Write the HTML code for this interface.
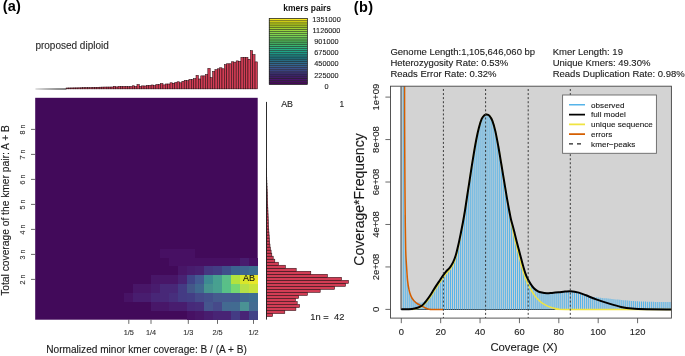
<!DOCTYPE html>
<html><head><meta charset="utf-8"><title>Smudgeplot and GenomeScope</title>
<style>html,body{margin:0;padding:0;background:#fff;width:685px;height:356px;overflow:hidden;font-family:"Liberation Sans", sans-serif;}svg{display:block;will-change:transform;}</style>
</head><body>
<svg width="685" height="356" viewBox="0 0 685 356" font-family='"Liberation Sans", sans-serif'><text x="2.80" y="11.00" font-size="14.50" text-anchor="start" font-weight="bold" fill="#000" letter-spacing="0.15">(a)</text>
<text x="35.40" y="48.80" font-size="10.00" text-anchor="start" font-weight="normal" fill="#2b2b2b" stroke="#2b2b2b" stroke-width="0.12">proposed diploid</text>
<defs><linearGradient id="gl" x1="0" x2="1" y1="0" y2="0"><stop offset="0" stop-color="#d0d0d0"/><stop offset="0.35" stop-color="#8a8a8a"/><stop offset="0.7" stop-color="#505050"/><stop offset="1" stop-color="#3a3a3a"/></linearGradient></defs>
<rect x="35.4" y="88.4" width="31" height="1.2" fill="url(#gl)"/>
<g fill="#d23d55" stroke="#2a0c12" stroke-width="0.55"><rect x="66.11" y="87.98" width="2.362" height="0.87"/><rect x="68.47" y="87.95" width="2.362" height="0.90"/><rect x="70.83" y="87.91" width="2.362" height="0.94"/><rect x="73.19" y="87.88" width="2.362" height="0.97"/><rect x="75.55" y="87.85" width="2.362" height="1.00"/><rect x="77.92" y="87.81" width="2.362" height="1.04"/><rect x="80.28" y="87.77" width="2.362" height="1.08"/><rect x="82.64" y="87.72" width="2.362" height="1.13"/><rect x="85.00" y="87.68" width="2.362" height="1.17"/><rect x="87.36" y="87.63" width="2.362" height="1.22"/><rect x="89.73" y="87.56" width="2.362" height="1.29"/><rect x="92.09" y="87.47" width="2.362" height="1.38"/><rect x="94.45" y="87.37" width="2.362" height="1.48"/><rect x="96.81" y="87.28" width="2.362" height="1.57"/><rect x="99.17" y="87.19" width="2.362" height="1.66"/><rect x="101.54" y="87.10" width="2.362" height="1.75"/><rect x="103.90" y="87.04" width="2.362" height="1.81"/><rect x="106.26" y="87.03" width="2.362" height="1.82"/><rect x="108.62" y="87.01" width="2.362" height="1.84"/><rect x="110.98" y="86.99" width="2.362" height="1.86"/><rect x="113.35" y="86.40" width="2.362" height="2.45"/><rect x="115.71" y="86.90" width="2.362" height="1.95"/><rect x="118.07" y="86.45" width="2.362" height="2.40"/><rect x="120.43" y="86.50" width="2.362" height="2.35"/><rect x="122.79" y="86.55" width="2.362" height="2.30"/><rect x="125.16" y="86.53" width="2.362" height="2.32"/><rect x="127.52" y="86.68" width="2.362" height="2.17"/><rect x="129.88" y="86.58" width="2.362" height="2.27"/><rect x="132.24" y="85.78" width="2.362" height="3.07"/><rect x="134.60" y="86.53" width="2.362" height="2.32"/><rect x="136.97" y="84.58" width="2.362" height="4.27"/><rect x="139.33" y="86.48" width="2.362" height="2.37"/><rect x="141.69" y="85.88" width="2.362" height="2.97"/><rect x="144.05" y="85.98" width="2.362" height="2.87"/><rect x="146.41" y="85.48" width="2.362" height="3.37"/><rect x="148.78" y="85.48" width="2.362" height="3.37"/><rect x="151.14" y="84.98" width="2.362" height="3.87"/><rect x="153.50" y="85.68" width="2.362" height="3.17"/><rect x="155.86" y="84.58" width="2.362" height="4.27"/><rect x="158.22" y="84.58" width="2.362" height="4.27"/><rect x="160.59" y="83.58" width="2.362" height="5.27"/><rect x="162.95" y="84.88" width="2.362" height="3.97"/><rect x="165.31" y="83.98" width="2.362" height="4.87"/><rect x="167.67" y="83.98" width="2.362" height="4.87"/><rect x="170.03" y="82.78" width="2.362" height="6.07"/><rect x="172.40" y="83.28" width="2.362" height="5.57"/><rect x="174.76" y="82.48" width="2.362" height="6.37"/><rect x="177.12" y="81.78" width="2.362" height="7.07"/><rect x="179.48" y="82.78" width="2.362" height="6.07"/><rect x="181.84" y="81.28" width="2.362" height="7.57"/><rect x="184.21" y="80.38" width="2.362" height="8.47"/><rect x="186.57" y="80.68" width="2.362" height="8.17"/><rect x="188.93" y="79.48" width="2.362" height="9.37"/><rect x="191.29" y="79.68" width="2.362" height="9.17"/><rect x="193.65" y="78.68" width="2.362" height="10.17"/><rect x="196.02" y="75.38" width="2.362" height="13.47"/><rect x="198.38" y="78.98" width="2.362" height="9.87"/><rect x="200.74" y="75.88" width="2.362" height="12.97"/><rect x="203.10" y="75.88" width="2.362" height="12.97"/><rect x="205.46" y="74.58" width="2.362" height="14.27"/><rect x="207.83" y="68.38" width="2.362" height="20.47"/><rect x="210.19" y="77.68" width="2.362" height="11.17"/><rect x="212.55" y="71.48" width="2.362" height="17.37"/><rect x="214.91" y="69.68" width="2.362" height="19.17"/><rect x="217.27" y="68.78" width="2.362" height="20.07"/><rect x="219.64" y="67.78" width="2.362" height="21.07"/><rect x="222.00" y="68.78" width="2.362" height="20.07"/><rect x="224.36" y="64.68" width="2.362" height="24.17"/><rect x="226.72" y="63.77" width="2.362" height="25.07"/><rect x="229.08" y="63.77" width="2.362" height="25.07"/><rect x="231.45" y="61.77" width="2.362" height="27.07"/><rect x="233.81" y="62.17" width="2.362" height="26.67"/><rect x="236.17" y="60.88" width="2.362" height="27.97"/><rect x="238.53" y="61.27" width="2.362" height="27.57"/><rect x="240.89" y="57.38" width="2.362" height="31.47"/><rect x="243.26" y="57.38" width="2.362" height="31.47"/><rect x="245.62" y="57.38" width="2.362" height="31.47"/><rect x="247.98" y="59.27" width="2.362" height="29.57"/><rect x="250.34" y="50.67" width="2.362" height="38.17"/><rect x="252.70" y="54.67" width="2.362" height="34.17"/><rect x="255.07" y="61.88" width="2.362" height="26.97"/></g>
<rect x="35.2" y="97.8" width="222.5" height="221.9" fill="#420a5a"/>
<g shape-rendering="crispEdges"><rect x="159.80" y="248.66" width="8.95" height="8.93" fill="#471063"/><rect x="168.70" y="248.66" width="8.95" height="8.93" fill="#471063"/><rect x="177.60" y="248.66" width="8.95" height="8.93" fill="#471063"/><rect x="186.50" y="248.66" width="8.95" height="8.93" fill="#471063"/><rect x="168.70" y="257.54" width="8.95" height="8.93" fill="#471063"/><rect x="177.60" y="257.54" width="8.95" height="8.93" fill="#471063"/><rect x="186.50" y="257.54" width="8.95" height="8.93" fill="#471063"/><rect x="195.40" y="257.54" width="8.95" height="8.93" fill="#471063"/><rect x="204.30" y="257.54" width="8.95" height="8.93" fill="#471063"/><rect x="213.20" y="257.54" width="8.95" height="8.93" fill="#471063"/><rect x="222.10" y="257.54" width="8.95" height="8.93" fill="#471063"/><rect x="231.00" y="257.54" width="8.95" height="8.93" fill="#471063"/><rect x="239.90" y="257.54" width="8.95" height="8.93" fill="#481d6f"/><rect x="248.80" y="257.54" width="8.95" height="8.93" fill="#471063"/><rect x="177.60" y="266.42" width="8.95" height="8.93" fill="#481668"/><rect x="186.50" y="266.42" width="8.95" height="8.93" fill="#481c6e"/><rect x="195.40" y="266.42" width="8.95" height="8.93" fill="#482071"/><rect x="204.30" y="266.42" width="8.95" height="8.93" fill="#453781"/><rect x="213.20" y="266.42" width="8.95" height="8.93" fill="#433d84"/><rect x="222.10" y="266.42" width="8.95" height="8.93" fill="#3f4f8b"/><rect x="231.00" y="266.42" width="8.95" height="8.93" fill="#3c6390"/><rect x="239.90" y="266.42" width="8.95" height="8.93" fill="#3e6690"/><rect x="248.80" y="266.42" width="8.95" height="8.93" fill="#3d6f90"/><rect x="150.90" y="275.30" width="8.95" height="8.93" fill="#481668"/><rect x="159.80" y="275.30" width="8.95" height="8.93" fill="#481668"/><rect x="168.70" y="275.30" width="8.95" height="8.93" fill="#481668"/><rect x="177.60" y="275.30" width="8.95" height="8.93" fill="#482374"/><rect x="186.50" y="275.30" width="8.95" height="8.93" fill="#404588"/><rect x="195.40" y="275.30" width="8.95" height="8.93" fill="#435a92"/><rect x="204.30" y="275.30" width="8.95" height="8.93" fill="#3d8a92"/><rect x="213.20" y="275.30" width="8.95" height="8.93" fill="#47a090"/><rect x="222.10" y="275.30" width="8.95" height="8.93" fill="#5abf88"/><rect x="231.00" y="275.30" width="8.95" height="8.93" fill="#b2e23e"/><rect x="239.90" y="275.30" width="8.95" height="8.93" fill="#d9e62a"/><rect x="248.80" y="275.30" width="8.95" height="8.93" fill="#e8e82a"/><rect x="133.10" y="284.18" width="8.95" height="8.93" fill="#481668"/><rect x="142.00" y="284.18" width="8.95" height="8.93" fill="#481668"/><rect x="150.90" y="284.18" width="8.95" height="8.93" fill="#481c6e"/><rect x="159.80" y="284.18" width="8.95" height="8.93" fill="#482878"/><rect x="168.70" y="284.18" width="8.95" height="8.93" fill="#482878"/><rect x="177.60" y="284.18" width="8.95" height="8.93" fill="#443b84"/><rect x="186.50" y="284.18" width="8.95" height="8.93" fill="#435889"/><rect x="195.40" y="284.18" width="8.95" height="8.93" fill="#40698f"/><rect x="204.30" y="284.18" width="8.95" height="8.93" fill="#46948f"/><rect x="213.20" y="284.18" width="8.95" height="8.93" fill="#48a090"/><rect x="222.10" y="284.18" width="8.95" height="8.93" fill="#58c088"/><rect x="231.00" y="284.18" width="8.95" height="8.93" fill="#74d872"/><rect x="239.90" y="284.18" width="8.95" height="8.93" fill="#b5e048"/><rect x="248.80" y="284.18" width="8.95" height="8.93" fill="#c7e33b"/><rect x="124.20" y="293.06" width="8.95" height="8.93" fill="#471365"/><rect x="133.10" y="293.06" width="8.95" height="8.93" fill="#481d6f"/><rect x="142.00" y="293.06" width="8.95" height="8.93" fill="#481d6f"/><rect x="150.90" y="293.06" width="8.95" height="8.93" fill="#482677"/><rect x="159.80" y="293.06" width="8.95" height="8.93" fill="#482878"/><rect x="168.70" y="293.06" width="8.95" height="8.93" fill="#472f7d"/><rect x="177.60" y="293.06" width="8.95" height="8.93" fill="#443b84"/><rect x="186.50" y="293.06" width="8.95" height="8.93" fill="#433e85"/><rect x="195.40" y="293.06" width="8.95" height="8.93" fill="#454a8a"/><rect x="204.30" y="293.06" width="8.95" height="8.93" fill="#44508c"/><rect x="213.20" y="293.06" width="8.95" height="8.93" fill="#455a8e"/><rect x="222.10" y="293.06" width="8.95" height="8.93" fill="#455a90"/><rect x="231.00" y="293.06" width="8.95" height="8.93" fill="#435a90"/><rect x="239.90" y="293.06" width="8.95" height="8.93" fill="#416890"/><rect x="248.80" y="293.06" width="8.95" height="8.93" fill="#3f6e92"/><rect x="150.90" y="301.94" width="8.95" height="8.93" fill="#481769"/><rect x="159.80" y="301.94" width="8.95" height="8.93" fill="#481769"/><rect x="168.70" y="301.94" width="8.95" height="8.93" fill="#481d6f"/><rect x="177.60" y="301.94" width="8.95" height="8.93" fill="#481d6f"/><rect x="186.50" y="301.94" width="8.95" height="8.93" fill="#472a7a"/><rect x="195.40" y="301.94" width="8.95" height="8.93" fill="#472d7b"/><rect x="204.30" y="301.94" width="8.95" height="8.93" fill="#45558d"/><rect x="213.20" y="301.94" width="8.95" height="8.93" fill="#464a8a"/><rect x="222.10" y="301.94" width="8.95" height="8.93" fill="#436a91"/><rect x="231.00" y="301.94" width="8.95" height="8.93" fill="#426b91"/><rect x="239.90" y="301.94" width="8.95" height="8.93" fill="#4a9294"/><rect x="248.80" y="301.94" width="8.95" height="8.93" fill="#446c92"/><rect x="186.50" y="310.82" width="8.95" height="8.93" fill="#471164"/><rect x="195.40" y="310.82" width="8.95" height="8.93" fill="#481668"/><rect x="204.30" y="310.82" width="8.95" height="8.93" fill="#481d6f"/><rect x="213.20" y="310.82" width="8.95" height="8.93" fill="#482475"/><rect x="222.10" y="310.82" width="8.95" height="8.93" fill="#482475"/><rect x="231.00" y="310.82" width="8.95" height="8.93" fill="#443b84"/><rect x="239.90" y="310.82" width="8.95" height="8.93" fill="#482576"/><rect x="248.80" y="310.82" width="8.95" height="8.93" fill="#414287"/></g>
<text x="243.00" y="281.30" font-size="9.00" text-anchor="start" font-weight="normal" fill="#111" stroke="#111" stroke-width="0.12">AB</text>
<line x1="31" y1="129.40" x2="35.2" y2="129.40" stroke="#444" stroke-width="0.8"/>
<text x="25.20" y="129.40" font-size="7.20" text-anchor="middle" font-weight="normal" fill="#333" stroke="#333" stroke-width="0.12" transform="rotate(-90 25.20 129.40)">8 n</text>
<line x1="31" y1="154.40" x2="35.2" y2="154.40" stroke="#444" stroke-width="0.8"/>
<text x="25.20" y="154.40" font-size="7.20" text-anchor="middle" font-weight="normal" fill="#333" stroke="#333" stroke-width="0.12" transform="rotate(-90 25.20 154.40)">7 n</text>
<line x1="31" y1="179.40" x2="35.2" y2="179.40" stroke="#444" stroke-width="0.8"/>
<text x="25.20" y="179.40" font-size="7.20" text-anchor="middle" font-weight="normal" fill="#333" stroke="#333" stroke-width="0.12" transform="rotate(-90 25.20 179.40)">6 n</text>
<line x1="31" y1="204.40" x2="35.2" y2="204.40" stroke="#444" stroke-width="0.8"/>
<text x="25.20" y="204.40" font-size="7.20" text-anchor="middle" font-weight="normal" fill="#333" stroke="#333" stroke-width="0.12" transform="rotate(-90 25.20 204.40)">5 n</text>
<line x1="31" y1="229.40" x2="35.2" y2="229.40" stroke="#444" stroke-width="0.8"/>
<text x="25.20" y="229.40" font-size="7.20" text-anchor="middle" font-weight="normal" fill="#333" stroke="#333" stroke-width="0.12" transform="rotate(-90 25.20 229.40)">4 n</text>
<line x1="31" y1="254.40" x2="35.2" y2="254.40" stroke="#444" stroke-width="0.8"/>
<text x="25.20" y="254.40" font-size="7.20" text-anchor="middle" font-weight="normal" fill="#333" stroke="#333" stroke-width="0.12" transform="rotate(-90 25.20 254.40)">3 n</text>
<line x1="31" y1="279.40" x2="35.2" y2="279.40" stroke="#444" stroke-width="0.8"/>
<text x="25.20" y="279.40" font-size="7.20" text-anchor="middle" font-weight="normal" fill="#333" stroke="#333" stroke-width="0.12" transform="rotate(-90 25.20 279.40)">2 n</text>
<text x="8.60" y="210.50" font-size="10.25" text-anchor="middle" font-weight="normal" fill="#1a1a1a" stroke="#1a1a1a" stroke-width="0.12" transform="rotate(-90 8.60 210.50)">Total coverage of the kmer pair: A + B</text>
<line x1="128.80" y1="319.7" x2="128.80" y2="323.9" stroke="#444" stroke-width="0.8"/>
<text x="128.80" y="335.10" font-size="7.30" text-anchor="middle" font-weight="normal" fill="#333" stroke="#333" stroke-width="0.12">1/5</text>
<line x1="151.00" y1="319.7" x2="151.00" y2="323.9" stroke="#444" stroke-width="0.8"/>
<text x="151.00" y="335.10" font-size="7.30" text-anchor="middle" font-weight="normal" fill="#333" stroke="#333" stroke-width="0.12">1/4</text>
<line x1="188.30" y1="319.7" x2="188.30" y2="323.9" stroke="#444" stroke-width="0.8"/>
<text x="188.30" y="335.10" font-size="7.30" text-anchor="middle" font-weight="normal" fill="#333" stroke="#333" stroke-width="0.12">1/3</text>
<line x1="217.50" y1="319.7" x2="217.50" y2="323.9" stroke="#444" stroke-width="0.8"/>
<text x="217.50" y="335.10" font-size="7.30" text-anchor="middle" font-weight="normal" fill="#333" stroke="#333" stroke-width="0.12">2/5</text>
<line x1="253.50" y1="319.7" x2="253.50" y2="323.9" stroke="#444" stroke-width="0.8"/>
<text x="253.50" y="335.10" font-size="7.30" text-anchor="middle" font-weight="normal" fill="#333" stroke="#333" stroke-width="0.12">1/2</text>
<text x="146.60" y="352.60" font-size="10.10" text-anchor="middle" font-weight="normal" fill="#1a1a1a" stroke="#1a1a1a" stroke-width="0.12">Normalized minor kmer coverage: B / (A + B)</text>
<g fill="#d23d55" stroke="#2a0c12" stroke-width="0.55"><rect x="266.40" y="313.56" width="6.20" height="3.02"/><rect x="266.40" y="310.54" width="18.40" height="3.02"/><rect x="266.40" y="307.52" width="29.50" height="3.02"/><rect x="266.40" y="304.50" width="33.20" height="3.02"/><rect x="266.40" y="301.48" width="30.80" height="3.02"/><rect x="266.40" y="298.46" width="29.00" height="3.02"/><rect x="266.40" y="295.44" width="32.20" height="3.02"/><rect x="266.40" y="292.42" width="41.00" height="3.02"/><rect x="266.40" y="289.40" width="53.80" height="3.02"/><rect x="266.40" y="286.38" width="68.20" height="3.02"/><rect x="266.40" y="283.36" width="79.10" height="3.02"/><rect x="266.40" y="280.34" width="82.10" height="3.02"/><rect x="266.40" y="277.32" width="75.10" height="3.02"/><rect x="266.40" y="274.30" width="61.00" height="3.02"/><rect x="266.40" y="271.28" width="44.40" height="3.02"/><rect x="266.40" y="268.26" width="29.80" height="3.02"/><rect x="266.40" y="265.24" width="19.00" height="3.02"/><rect x="266.40" y="262.22" width="12.00" height="3.02"/><rect x="266.40" y="259.20" width="8.40" height="3.02"/><rect x="266.40" y="256.18" width="6.80" height="3.02"/><rect x="266.40" y="253.16" width="5.40" height="3.02"/><rect x="266.40" y="250.14" width="4.70" height="3.02"/><rect x="266.40" y="247.12" width="4.00" height="3.02"/><rect x="266.40" y="244.10" width="3.60" height="3.02"/><rect x="266.40" y="241.08" width="3.30" height="3.02"/><rect x="266.40" y="238.06" width="3.00" height="3.02"/><rect x="266.40" y="235.04" width="2.80" height="3.02"/><rect x="266.40" y="232.02" width="2.60" height="3.02"/><rect x="266.40" y="229.00" width="2.40" height="3.02"/><rect x="266.40" y="225.98" width="2.20" height="3.02"/><rect x="266.40" y="222.96" width="2.00" height="3.02"/><rect x="266.40" y="219.94" width="1.90" height="3.02"/><rect x="266.40" y="216.92" width="1.80" height="3.02"/><rect x="266.40" y="213.90" width="1.70" height="3.02"/><rect x="266.40" y="210.88" width="1.59" height="3.02"/><rect x="266.40" y="207.86" width="1.48" height="3.02"/><rect x="266.40" y="204.84" width="1.37" height="3.02"/><rect x="266.40" y="201.82" width="1.26" height="3.02"/><rect x="266.40" y="198.80" width="1.15" height="3.02"/><rect x="266.40" y="195.78" width="1.04" height="3.02"/><rect x="266.40" y="192.76" width="0.93" height="3.02"/><rect x="266.40" y="189.74" width="0.82" height="3.02"/><rect x="266.40" y="186.72" width="0.71" height="3.02"/><rect x="266.40" y="183.70" width="0.60" height="3.02"/><rect x="266.40" y="180.68" width="0.49" height="3.02"/><rect x="266.40" y="177.66" width="0.38" height="3.02"/><rect x="266.40" y="174.64" width="0.27" height="3.02"/><rect x="266.40" y="171.62" width="0.16" height="3.02"/><rect x="266.40" y="168.60" width="0.05" height="3.02"/></g>
<line x1="266.5" y1="101.9" x2="266.5" y2="319.6" stroke="#222" stroke-width="0.95"/>
<text x="281.20" y="106.90" font-size="8.90" text-anchor="start" font-weight="normal" fill="#222" stroke="#222" stroke-width="0.12">AB</text>
<text x="344.20" y="106.90" font-size="8.40" text-anchor="end" font-weight="normal" fill="#222" stroke="#222" stroke-width="0.12">1</text>
<text x="310.30" y="320.40" font-size="9.30" text-anchor="start" font-weight="normal" fill="#222" stroke="#222" stroke-width="0.12">1n =</text>
<text x="344.40" y="320.40" font-size="9.30" text-anchor="end" font-weight="normal" fill="#222" stroke="#222" stroke-width="0.12">42</text>
<g stroke="#000" stroke-opacity="0.7" stroke-width="0.5"><rect x="269.20" y="18.400" width="38.10" height="1.886" fill="#f6e620"/><rect x="269.20" y="20.286" width="38.10" height="1.886" fill="#e5e419"/><rect x="269.20" y="22.171" width="38.10" height="1.886" fill="#d2e21b"/><rect x="269.20" y="24.057" width="38.10" height="1.886" fill="#c2df23"/><rect x="269.20" y="25.943" width="38.10" height="1.886" fill="#b5de2b"/><rect x="269.20" y="27.829" width="38.10" height="1.886" fill="#a8db34"/><rect x="269.20" y="29.714" width="38.10" height="1.886" fill="#98d83e"/><rect x="269.20" y="31.600" width="38.10" height="1.886" fill="#8bd646"/><rect x="269.20" y="33.486" width="38.10" height="1.886" fill="#81d34d"/><rect x="269.20" y="35.371" width="38.10" height="1.886" fill="#77d153"/><rect x="269.20" y="37.257" width="38.10" height="1.886" fill="#6ece58"/><rect x="269.20" y="39.143" width="38.10" height="1.886" fill="#63cb5f"/><rect x="269.20" y="41.029" width="38.10" height="1.886" fill="#56c667"/><rect x="269.20" y="42.914" width="38.10" height="1.886" fill="#4ac16d"/><rect x="269.20" y="44.800" width="38.10" height="1.886" fill="#3dbc74"/><rect x="269.20" y="46.686" width="38.10" height="1.886" fill="#2fb47c"/><rect x="269.20" y="48.571" width="38.10" height="1.886" fill="#26ad81"/><rect x="269.20" y="50.457" width="38.10" height="1.886" fill="#20a486"/><rect x="269.20" y="52.343" width="38.10" height="1.886" fill="#1e9b8a"/><rect x="269.20" y="54.229" width="38.10" height="1.886" fill="#20928c"/><rect x="269.20" y="56.114" width="38.10" height="1.886" fill="#23898e"/><rect x="269.20" y="58.000" width="38.10" height="1.886" fill="#27808e"/><rect x="269.20" y="59.886" width="38.10" height="1.886" fill="#2a768e"/><rect x="269.20" y="61.771" width="38.10" height="1.886" fill="#2e6e8e"/><rect x="269.20" y="63.657" width="38.10" height="1.886" fill="#32658e"/><rect x="269.20" y="65.543" width="38.10" height="1.886" fill="#365d8d"/><rect x="269.20" y="67.429" width="38.10" height="1.886" fill="#3a538b"/><rect x="269.20" y="69.314" width="38.10" height="1.886" fill="#3e4a89"/><rect x="269.20" y="71.200" width="38.10" height="1.886" fill="#424086"/><rect x="269.20" y="73.086" width="38.10" height="1.886" fill="#453581"/><rect x="269.20" y="74.971" width="38.10" height="1.886" fill="#472a7a"/><rect x="269.20" y="76.857" width="38.10" height="1.886" fill="#481f70"/><rect x="269.20" y="78.743" width="38.10" height="1.886" fill="#481769"/><rect x="269.20" y="80.629" width="38.10" height="1.886" fill="#470e61"/><rect x="269.20" y="82.514" width="38.10" height="1.886" fill="#450559"/></g>
<rect x="269.20" y="18.40" width="38.10" height="66.00" fill="none" stroke="#222" stroke-width="0.6"/>
<text x="307.20" y="10.75" font-size="8.50" text-anchor="middle" font-weight="bold" fill="#111">kmers pairs</text>
<text x="326.50" y="21.55" font-size="7.30" text-anchor="middle" font-weight="normal" fill="#222" stroke="#222" stroke-width="0.12">1351000</text>
<text x="326.50" y="32.77" font-size="7.30" text-anchor="middle" font-weight="normal" fill="#222" stroke="#222" stroke-width="0.12">1126000</text>
<text x="326.50" y="43.99" font-size="7.30" text-anchor="middle" font-weight="normal" fill="#222" stroke="#222" stroke-width="0.12">901000</text>
<text x="326.50" y="55.21" font-size="7.30" text-anchor="middle" font-weight="normal" fill="#222" stroke="#222" stroke-width="0.12">675000</text>
<text x="326.50" y="66.43" font-size="7.30" text-anchor="middle" font-weight="normal" fill="#222" stroke="#222" stroke-width="0.12">450000</text>
<text x="326.50" y="77.65" font-size="7.30" text-anchor="middle" font-weight="normal" fill="#222" stroke="#222" stroke-width="0.12">225000</text>
<text x="326.50" y="88.87" font-size="7.30" text-anchor="middle" font-weight="normal" fill="#222" stroke="#222" stroke-width="0.12">0</text>
<text x="353.70" y="11.50" font-size="14.50" text-anchor="start" font-weight="bold" fill="#000" letter-spacing="0.45">(b)</text>
<text x="390.40" y="54.50" font-size="9.50" text-anchor="start" font-weight="normal" fill="#1a1a1a" stroke="#1a1a1a" stroke-width="0.12">Genome Length:1,105,646,060 bp</text>
<text x="552.70" y="54.50" font-size="9.50" text-anchor="start" font-weight="normal" fill="#1a1a1a" stroke="#1a1a1a" stroke-width="0.12">Kmer Length: 19</text>
<text x="390.40" y="65.65" font-size="9.50" text-anchor="start" font-weight="normal" fill="#1a1a1a" stroke="#1a1a1a" stroke-width="0.12">Heterozygosity Rate: 0.53%</text>
<text x="552.70" y="65.65" font-size="9.50" text-anchor="start" font-weight="normal" fill="#1a1a1a" stroke="#1a1a1a" stroke-width="0.12">Unique Kmers: 49.30%</text>
<text x="390.40" y="76.80" font-size="9.50" text-anchor="start" font-weight="normal" fill="#1a1a1a" stroke="#1a1a1a" stroke-width="0.12">Reads Error Rate: 0.32%</text>
<text x="552.70" y="76.80" font-size="9.50" text-anchor="start" font-weight="normal" fill="#1a1a1a" stroke="#1a1a1a" stroke-width="0.12">Reads Duplication Rate: 0.98%</text>
<defs><clipPath id="pc"><rect x="390.50" y="86.20" width="280.90" height="231.90"/></clipPath></defs>
<g clip-path="url(#pc)">
<rect x="401.00" y="76.20" width="290.10" height="233.20" fill="#d3d3d3" stroke="#111" stroke-width="0.8"/>
<g stroke="#56B4E9" stroke-width="1.05"><line x1="403.27" y1="309.40" x2="403.27" y2="-90.60"/><line x1="405.24" y1="309.40" x2="405.24" y2="215.00"/><line x1="407.21" y1="309.40" x2="407.21" y2="275.53"/><line x1="409.18" y1="309.40" x2="409.18" y2="290.51"/><line x1="411.15" y1="309.40" x2="411.15" y2="296.50"/><line x1="413.11" y1="309.40" x2="413.11" y2="299.33"/><line x1="415.08" y1="309.40" x2="415.08" y2="301.01"/><line x1="417.05" y1="309.40" x2="417.05" y2="302.25"/><line x1="419.02" y1="309.40" x2="419.02" y2="302.57"/><line x1="420.99" y1="309.40" x2="420.99" y2="302.67"/><line x1="422.96" y1="309.40" x2="422.96" y2="302.23"/><line x1="424.93" y1="309.40" x2="424.93" y2="301.12"/><line x1="426.90" y1="309.40" x2="426.90" y2="299.44"/><line x1="428.87" y1="309.40" x2="428.87" y2="297.53"/><line x1="430.84" y1="309.40" x2="430.84" y2="294.70"/><line x1="432.80" y1="309.40" x2="432.80" y2="291.71"/><line x1="434.77" y1="309.40" x2="434.77" y2="288.49"/><line x1="436.74" y1="309.40" x2="436.74" y2="285.46"/><line x1="438.71" y1="309.40" x2="438.71" y2="282.58"/><line x1="440.68" y1="309.40" x2="440.68" y2="279.58"/><line x1="442.65" y1="309.40" x2="442.65" y2="276.63"/><line x1="444.62" y1="309.40" x2="444.62" y2="273.83"/><line x1="446.59" y1="309.40" x2="446.59" y2="271.38"/><line x1="448.56" y1="309.40" x2="448.56" y2="269.31"/><line x1="450.53" y1="309.40" x2="450.53" y2="266.82"/><line x1="452.49" y1="309.40" x2="452.49" y2="263.62"/><line x1="454.46" y1="309.40" x2="454.46" y2="259.09"/><line x1="456.43" y1="309.40" x2="456.43" y2="252.90"/><line x1="458.40" y1="309.40" x2="458.40" y2="244.95"/><line x1="460.37" y1="309.40" x2="460.37" y2="235.66"/><line x1="462.34" y1="309.40" x2="462.34" y2="225.76"/><line x1="464.31" y1="309.40" x2="464.31" y2="214.85"/><line x1="466.28" y1="309.40" x2="466.28" y2="202.39"/><line x1="468.25" y1="309.40" x2="468.25" y2="189.43"/><line x1="470.22" y1="309.40" x2="470.22" y2="176.70"/><line x1="472.18" y1="309.40" x2="472.18" y2="164.08"/><line x1="474.15" y1="309.40" x2="474.15" y2="152.15"/><line x1="476.12" y1="309.40" x2="476.12" y2="140.85"/><line x1="478.09" y1="309.40" x2="478.09" y2="131.79"/><line x1="480.06" y1="309.40" x2="480.06" y2="124.45"/><line x1="482.03" y1="309.40" x2="482.03" y2="118.85"/><line x1="484.00" y1="309.40" x2="484.00" y2="116.15"/><line x1="485.97" y1="309.40" x2="485.97" y2="115.05"/><line x1="487.94" y1="309.40" x2="487.94" y2="115.37"/><line x1="489.91" y1="309.40" x2="489.91" y2="117.01"/><line x1="491.87" y1="309.40" x2="491.87" y2="120.32"/><line x1="493.84" y1="309.40" x2="493.84" y2="126.30"/><line x1="495.81" y1="309.40" x2="495.81" y2="133.92"/><line x1="497.78" y1="309.40" x2="497.78" y2="144.03"/><line x1="499.75" y1="309.40" x2="499.75" y2="155.25"/><line x1="501.72" y1="309.40" x2="501.72" y2="166.94"/><line x1="503.69" y1="309.40" x2="503.69" y2="178.90"/><line x1="505.66" y1="309.40" x2="505.66" y2="190.80"/><line x1="507.63" y1="309.40" x2="507.63" y2="202.29"/><line x1="509.60" y1="309.40" x2="509.60" y2="212.88"/><line x1="511.56" y1="309.40" x2="511.56" y2="221.94"/><line x1="513.53" y1="309.40" x2="513.53" y2="229.25"/><line x1="515.50" y1="309.40" x2="515.50" y2="237.05"/><line x1="517.47" y1="309.40" x2="517.47" y2="244.86"/><line x1="519.44" y1="309.40" x2="519.44" y2="252.38"/><line x1="521.41" y1="309.40" x2="521.41" y2="259.87"/><line x1="523.38" y1="309.40" x2="523.38" y2="267.15"/><line x1="525.35" y1="309.40" x2="525.35" y2="273.53"/><line x1="527.32" y1="309.40" x2="527.32" y2="278.35"/><line x1="529.28" y1="309.40" x2="529.28" y2="282.03"/><line x1="531.25" y1="309.40" x2="531.25" y2="285.11"/><line x1="533.22" y1="309.40" x2="533.22" y2="287.85"/><line x1="535.19" y1="309.40" x2="535.19" y2="289.55"/><line x1="537.16" y1="309.40" x2="537.16" y2="291.14"/><line x1="539.13" y1="309.40" x2="539.13" y2="292.05"/><line x1="541.10" y1="309.40" x2="541.10" y2="292.75"/><line x1="543.07" y1="309.40" x2="543.07" y2="293.15"/><line x1="545.04" y1="309.40" x2="545.04" y2="293.38"/><line x1="547.01" y1="309.40" x2="547.01" y2="293.59"/><line x1="548.98" y1="309.40" x2="548.98" y2="293.48"/><line x1="550.94" y1="309.40" x2="550.94" y2="293.36"/><line x1="552.91" y1="309.40" x2="552.91" y2="293.22"/><line x1="554.88" y1="309.40" x2="554.88" y2="293.04"/><line x1="556.85" y1="309.40" x2="556.85" y2="292.87"/><line x1="558.82" y1="309.40" x2="558.82" y2="292.69"/><line x1="560.79" y1="309.40" x2="560.79" y2="292.47"/><line x1="562.76" y1="309.40" x2="562.76" y2="292.25"/><line x1="564.73" y1="309.40" x2="564.73" y2="292.03"/><line x1="566.70" y1="309.40" x2="566.70" y2="291.88"/><line x1="568.66" y1="309.40" x2="568.66" y2="291.74"/><line x1="570.63" y1="309.40" x2="570.63" y2="291.61"/><line x1="572.60" y1="309.40" x2="572.60" y2="291.94"/><line x1="574.57" y1="309.40" x2="574.57" y2="292.28"/><line x1="576.54" y1="309.40" x2="576.54" y2="292.61"/><line x1="578.51" y1="309.40" x2="578.51" y2="292.95"/><line x1="580.48" y1="309.40" x2="580.48" y2="293.63"/><line x1="582.45" y1="309.40" x2="582.45" y2="294.37"/><line x1="584.42" y1="309.40" x2="584.42" y2="295.11"/><line x1="586.39" y1="309.40" x2="586.39" y2="295.86"/><line x1="588.36" y1="309.40" x2="588.36" y2="296.60"/><line x1="590.32" y1="309.40" x2="590.32" y2="296.77"/><line x1="592.29" y1="309.40" x2="592.29" y2="296.93"/><line x1="594.26" y1="309.40" x2="594.26" y2="297.10"/><line x1="596.23" y1="309.40" x2="596.23" y2="297.31"/><line x1="598.20" y1="309.40" x2="598.20" y2="297.52"/><line x1="600.17" y1="309.40" x2="600.17" y2="297.73"/><line x1="602.14" y1="309.40" x2="602.14" y2="297.94"/><line x1="604.11" y1="309.40" x2="604.11" y2="298.15"/><line x1="606.08" y1="309.40" x2="606.08" y2="298.36"/><line x1="608.05" y1="309.40" x2="608.05" y2="298.57"/><line x1="610.01" y1="309.40" x2="610.01" y2="298.78"/><line x1="611.98" y1="309.40" x2="611.98" y2="298.99"/><line x1="613.95" y1="309.40" x2="613.95" y2="299.20"/><line x1="615.92" y1="309.40" x2="615.92" y2="299.39"/><line x1="617.89" y1="309.40" x2="617.89" y2="299.58"/><line x1="619.86" y1="309.40" x2="619.86" y2="299.77"/><line x1="621.83" y1="309.40" x2="621.83" y2="299.96"/><line x1="623.80" y1="309.40" x2="623.80" y2="300.15"/><line x1="625.77" y1="309.40" x2="625.77" y2="300.35"/><line x1="627.74" y1="309.40" x2="627.74" y2="300.54"/><line x1="629.70" y1="309.40" x2="629.70" y2="300.73"/><line x1="631.67" y1="309.40" x2="631.67" y2="300.92"/><line x1="633.64" y1="309.40" x2="633.64" y2="301.11"/><line x1="635.61" y1="309.40" x2="635.61" y2="301.30"/><line x1="637.58" y1="309.40" x2="637.58" y2="301.36"/><line x1="639.55" y1="309.40" x2="639.55" y2="301.43"/><line x1="641.52" y1="309.40" x2="641.52" y2="301.49"/><line x1="643.49" y1="309.40" x2="643.49" y2="301.55"/><line x1="645.46" y1="309.40" x2="645.46" y2="301.62"/><line x1="647.42" y1="309.40" x2="647.42" y2="301.68"/><line x1="649.39" y1="309.40" x2="649.39" y2="301.75"/><line x1="651.36" y1="309.40" x2="651.36" y2="301.81"/><line x1="653.33" y1="309.40" x2="653.33" y2="301.87"/><line x1="655.30" y1="309.40" x2="655.30" y2="301.94"/><line x1="657.27" y1="309.40" x2="657.27" y2="302.00"/><line x1="659.24" y1="309.40" x2="659.24" y2="302.00"/><line x1="661.21" y1="309.40" x2="661.21" y2="302.00"/><line x1="663.18" y1="309.40" x2="663.18" y2="302.00"/><line x1="665.15" y1="309.40" x2="665.15" y2="302.00"/><line x1="667.12" y1="309.40" x2="667.12" y2="302.00"/><line x1="669.08" y1="309.40" x2="669.08" y2="302.00"/><line x1="671.05" y1="309.40" x2="671.05" y2="302.00"/><line x1="673.02" y1="309.40" x2="673.02" y2="302.00"/></g>
<path d="M412.00,309.40 C412.93,309.22 415.92,308.80 417.60,308.30 C419.28,307.80 420.78,307.28 422.10,306.40 C423.42,305.52 424.37,304.27 425.50,303.00 C426.63,301.73 427.78,300.30 428.90,298.80 C430.02,297.30 431.08,295.70 432.20,294.00 C433.32,292.30 434.47,290.33 435.60,288.60 C436.73,286.87 437.88,285.25 439.00,283.60 C440.12,281.95 441.13,280.33 442.30,278.70 C443.47,277.07 444.75,275.32 446.00,273.80 C447.25,272.28 448.63,271.17 449.80,269.60 C450.97,268.03 452.00,266.47 453.00,264.40 C454.00,262.33 454.90,260.22 455.80,257.20 C456.70,254.18 457.55,250.13 458.40,246.30 C459.25,242.47 460.15,238.17 460.90,234.20 C461.65,230.23 462.22,226.45 462.90,222.50 C463.58,218.55 464.25,215.17 465.00,210.50 C465.75,205.83 466.53,200.18 467.40,194.50 C468.27,188.82 469.25,182.52 470.20,176.40 C471.15,170.28 472.10,163.87 473.10,157.80 C474.10,151.73 475.23,145.02 476.20,140.00 C477.17,134.98 477.98,131.22 478.90,127.70 C479.82,124.18 480.78,120.98 481.70,118.90 C482.62,116.82 483.57,115.95 484.40,115.20 C485.23,114.45 485.88,114.33 486.70,114.40 C487.52,114.47 488.35,114.53 489.30,115.60 C490.25,116.67 491.38,118.17 492.40,120.80 C493.42,123.43 494.42,127.15 495.40,131.40 C496.38,135.65 497.32,140.87 498.30,146.30 C499.28,151.73 500.33,158.22 501.30,164.00 C502.27,169.78 503.17,175.35 504.10,181.00 C505.03,186.65 506.07,193.07 506.90,197.90 C507.73,202.73 508.42,206.23 509.10,210.00 C509.78,213.77 510.20,216.32 511.00,220.50 C511.80,224.68 513.00,230.98 513.90,235.10 C514.80,239.22 515.55,241.82 516.40,245.20 C517.25,248.58 518.15,252.02 519.00,255.40 C519.85,258.78 520.67,262.42 521.50,265.50 C522.33,268.58 523.17,271.35 524.00,273.90 C524.83,276.45 525.77,278.95 526.50,280.80 C527.23,282.65 527.53,283.30 528.40,285.00 C529.27,286.70 530.58,289.15 531.70,291.00 C532.82,292.85 534.12,294.75 535.10,296.10 C536.08,297.45 536.78,298.23 537.60,299.10 C538.42,299.97 538.93,300.45 540.00,301.30 C541.07,302.15 542.63,303.35 544.00,304.20 C545.37,305.05 546.70,305.77 548.20,306.40 C549.70,307.03 551.30,307.57 553.00,308.00 C554.70,308.43 556.23,308.77 558.40,309.00 C560.57,309.23 547.07,309.32 566.00,309.40 C584.93,309.47 654.33,309.44 672.00,309.45" fill="none" stroke="#F0E442" stroke-width="1.5"/>
<path d="M404.55,80.00 C404.56,86.67 404.54,103.33 404.60,120.00 C404.66,136.67 404.80,164.17 404.90,180.00 C405.00,195.83 405.07,203.33 405.20,215.00 C405.33,226.67 405.48,241.58 405.70,250.00 C405.92,258.42 406.18,260.35 406.50,265.50 C406.82,270.65 407.17,276.78 407.60,280.90 C408.03,285.02 408.52,287.62 409.10,290.20 C409.68,292.78 410.37,294.73 411.10,296.40 C411.83,298.07 412.60,299.08 413.50,300.20 C414.40,301.32 415.48,302.32 416.50,303.10 C417.52,303.88 418.77,304.43 419.60,304.90 C420.43,305.37 420.52,305.38 421.50,305.90 C422.48,306.42 424.27,307.45 425.50,308.00 C426.73,308.55 427.82,308.95 428.90,309.20 C429.98,309.45 429.62,309.43 432.00,309.50 C434.38,309.57 441.33,309.58 443.20,309.60" fill="none" stroke="#D55E00" stroke-width="1.5"/>
<path d="M401.30,309.30 C403.08,309.25 409.28,309.27 412.00,309.00 C414.72,308.73 415.92,308.28 417.60,307.70 C419.28,307.12 420.78,306.48 422.10,305.50 C423.42,304.52 424.37,303.17 425.50,301.80 C426.63,300.43 427.78,298.90 428.90,297.30 C430.02,295.70 431.08,293.98 432.20,292.20 C433.32,290.42 434.47,288.37 435.60,286.60 C436.73,284.83 437.88,283.28 439.00,281.60 C440.12,279.92 441.13,278.17 442.30,276.50 C443.47,274.83 444.75,273.08 446.00,271.60 C447.25,270.12 448.63,269.13 449.80,267.60 C450.97,266.07 452.03,264.37 453.00,262.40 C453.97,260.43 454.73,258.62 455.60,255.80 C456.47,252.98 457.35,249.18 458.20,245.50 C459.05,241.82 459.92,237.53 460.70,233.70 C461.48,229.87 462.18,226.37 462.90,222.50 C463.62,218.63 464.25,215.17 465.00,210.50 C465.75,205.83 466.53,200.18 467.40,194.50 C468.27,188.82 469.25,182.52 470.20,176.40 C471.15,170.28 472.10,163.87 473.10,157.80 C474.10,151.73 475.23,145.02 476.20,140.00 C477.17,134.98 477.98,131.22 478.90,127.70 C479.82,124.18 480.78,120.98 481.70,118.90 C482.62,116.82 483.57,115.95 484.40,115.20 C485.23,114.45 485.88,114.33 486.70,114.40 C487.52,114.47 488.35,114.53 489.30,115.60 C490.25,116.67 491.38,118.17 492.40,120.80 C493.42,123.43 494.42,127.15 495.40,131.40 C496.38,135.65 497.32,140.87 498.30,146.30 C499.28,151.73 500.33,158.22 501.30,164.00 C502.27,169.78 503.17,175.35 504.10,181.00 C505.03,186.65 506.07,193.07 506.90,197.90 C507.73,202.73 508.42,206.40 509.10,210.00 C509.78,213.60 510.38,216.83 511.00,219.50 C511.62,222.17 512.18,223.68 512.80,226.00 C513.42,228.32 514.03,230.75 514.70,233.40 C515.37,236.05 516.08,239.08 516.80,241.90 C517.52,244.72 518.27,247.50 519.00,250.30 C519.73,253.10 520.45,255.88 521.20,258.70 C521.95,261.52 522.80,264.77 523.50,267.20 C524.20,269.63 524.73,271.43 525.40,273.30 C526.07,275.17 526.72,276.77 527.50,278.40 C528.28,280.03 529.12,281.55 530.10,283.10 C531.08,284.65 532.15,286.37 533.40,287.70 C534.65,289.03 536.20,290.28 537.60,291.10 C539.00,291.92 540.25,292.25 541.80,292.60 C543.35,292.95 545.20,293.15 546.90,293.20 C548.60,293.25 550.03,293.05 552.00,292.90 C553.97,292.75 556.53,292.52 558.70,292.30 C560.87,292.08 563.02,291.78 565.00,291.60 C566.98,291.42 568.30,291.03 570.60,291.20 C572.90,291.37 576.23,291.92 578.80,292.60 C581.37,293.28 583.10,294.17 586.00,295.30 C588.90,296.43 592.20,297.97 596.20,299.40 C600.20,300.83 605.87,302.65 610.00,303.90 C614.13,305.15 617.38,306.12 621.00,306.90 C624.62,307.68 627.45,308.20 631.70,308.60 C635.95,309.00 639.78,309.17 646.50,309.30 C653.22,309.43 667.75,309.38 672.00,309.40" fill="none" stroke="#000" stroke-width="2"/>
<line x1="443.40" y1="89.00" x2="443.40" y2="318.10" stroke="#333" stroke-width="0.95" stroke-dasharray="2,2.07"/>
<line x1="485.60" y1="89.00" x2="485.60" y2="318.10" stroke="#333" stroke-width="0.95" stroke-dasharray="2,2.07"/>
<line x1="528.20" y1="89.00" x2="528.20" y2="318.10" stroke="#333" stroke-width="0.95" stroke-dasharray="2,2.07"/>
<line x1="570.30" y1="89.00" x2="570.30" y2="318.10" stroke="#333" stroke-width="0.95" stroke-dasharray="2,2.07"/>
<rect x="562.6" y="95.0" width="93.8" height="58.3" fill="#fff" stroke="#666" stroke-width="0.9"/>
<line x1="569" y1="104.80" x2="585" y2="104.80" stroke="#56B4E9" stroke-width="1.6"/>
<text x="591.10" y="107.50" font-size="8.10" text-anchor="start" font-weight="normal" fill="#1a1a1a" stroke="#1a1a1a" stroke-width="0.12">observed</text>
<line x1="569" y1="114.58" x2="585" y2="114.58" stroke="#000" stroke-width="1.6"/>
<text x="591.10" y="117.28" font-size="8.10" text-anchor="start" font-weight="normal" fill="#1a1a1a" stroke="#1a1a1a" stroke-width="0.12">full model</text>
<line x1="569" y1="124.36" x2="585" y2="124.36" stroke="#F0E442" stroke-width="1.6"/>
<text x="591.10" y="127.06" font-size="8.10" text-anchor="start" font-weight="normal" fill="#1a1a1a" stroke="#1a1a1a" stroke-width="0.12">unique sequence</text>
<line x1="569" y1="134.14" x2="585" y2="134.14" stroke="#D55E00" stroke-width="1.6"/>
<text x="591.10" y="136.84" font-size="8.10" text-anchor="start" font-weight="normal" fill="#1a1a1a" stroke="#1a1a1a" stroke-width="0.12">errors</text>
<line x1="569" y1="143.92" x2="585" y2="143.92" stroke="#222" stroke-width="1.2" stroke-dasharray="4,4"/>
<text x="591.10" y="146.62" font-size="8.10" text-anchor="start" font-weight="normal" fill="#1a1a1a" stroke="#1a1a1a" stroke-width="0.12">kmer−peaks</text>
</g>
<rect x="390.50" y="86.20" width="280.90" height="231.90" fill="none" stroke="#444" stroke-width="0.9"/>
<line x1="385.4" y1="309.40" x2="390.5" y2="309.40" stroke="#444" stroke-width="0.8"/>
<text x="379.00" y="309.40" font-size="9.50" text-anchor="middle" font-weight="normal" fill="#222" stroke="#222" stroke-width="0.12" transform="rotate(-90 379.00 309.40)">0</text>
<line x1="385.4" y1="266.94" x2="390.5" y2="266.94" stroke="#444" stroke-width="0.8"/>
<text x="379.00" y="266.94" font-size="9.50" text-anchor="middle" font-weight="normal" fill="#222" stroke="#222" stroke-width="0.12" transform="rotate(-90 379.00 266.94)">2e+08</text>
<line x1="385.4" y1="224.48" x2="390.5" y2="224.48" stroke="#444" stroke-width="0.8"/>
<text x="379.00" y="224.48" font-size="9.50" text-anchor="middle" font-weight="normal" fill="#222" stroke="#222" stroke-width="0.12" transform="rotate(-90 379.00 224.48)">4e+08</text>
<line x1="385.4" y1="182.02" x2="390.5" y2="182.02" stroke="#444" stroke-width="0.8"/>
<text x="379.00" y="182.02" font-size="9.50" text-anchor="middle" font-weight="normal" fill="#222" stroke="#222" stroke-width="0.12" transform="rotate(-90 379.00 182.02)">6e+08</text>
<line x1="385.4" y1="139.56" x2="390.5" y2="139.56" stroke="#444" stroke-width="0.8"/>
<text x="379.00" y="139.56" font-size="9.50" text-anchor="middle" font-weight="normal" fill="#222" stroke="#222" stroke-width="0.12" transform="rotate(-90 379.00 139.56)">8e+08</text>
<line x1="385.4" y1="97.10" x2="390.5" y2="97.10" stroke="#444" stroke-width="0.8"/>
<text x="379.00" y="97.10" font-size="9.50" text-anchor="middle" font-weight="normal" fill="#222" stroke="#222" stroke-width="0.12" transform="rotate(-90 379.00 97.10)">1e+09</text>
<line x1="401.30" y1="318.1" x2="401.30" y2="323.2" stroke="#444" stroke-width="0.8"/>
<text x="401.30" y="335.40" font-size="9.40" text-anchor="middle" font-weight="normal" fill="#222" stroke="#222" stroke-width="0.12">0</text>
<line x1="440.68" y1="318.1" x2="440.68" y2="323.2" stroke="#444" stroke-width="0.8"/>
<text x="440.68" y="335.40" font-size="9.40" text-anchor="middle" font-weight="normal" fill="#222" stroke="#222" stroke-width="0.12">20</text>
<line x1="480.06" y1="318.1" x2="480.06" y2="323.2" stroke="#444" stroke-width="0.8"/>
<text x="480.06" y="335.40" font-size="9.40" text-anchor="middle" font-weight="normal" fill="#222" stroke="#222" stroke-width="0.12">40</text>
<line x1="519.44" y1="318.1" x2="519.44" y2="323.2" stroke="#444" stroke-width="0.8"/>
<text x="519.44" y="335.40" font-size="9.40" text-anchor="middle" font-weight="normal" fill="#222" stroke="#222" stroke-width="0.12">60</text>
<line x1="558.82" y1="318.1" x2="558.82" y2="323.2" stroke="#444" stroke-width="0.8"/>
<text x="558.82" y="335.40" font-size="9.40" text-anchor="middle" font-weight="normal" fill="#222" stroke="#222" stroke-width="0.12">80</text>
<line x1="598.20" y1="318.1" x2="598.20" y2="323.2" stroke="#444" stroke-width="0.8"/>
<text x="598.20" y="335.40" font-size="9.40" text-anchor="middle" font-weight="normal" fill="#222" stroke="#222" stroke-width="0.12">100</text>
<line x1="637.58" y1="318.1" x2="637.58" y2="323.2" stroke="#444" stroke-width="0.8"/>
<text x="637.58" y="335.40" font-size="9.40" text-anchor="middle" font-weight="normal" fill="#222" stroke="#222" stroke-width="0.12">120</text>
<text x="524.00" y="351.20" font-size="11.30" text-anchor="middle" font-weight="normal" fill="#1a1a1a" stroke="#1a1a1a" stroke-width="0.12">Coverage (X)</text>
<text x="364.30" y="199.50" font-size="14.00" text-anchor="middle" font-weight="normal" fill="#1a1a1a" stroke="#1a1a1a" stroke-width="0.12" transform="rotate(-90 364.30 199.50)">Coverage*Frequency</text></svg>
</body></html>
